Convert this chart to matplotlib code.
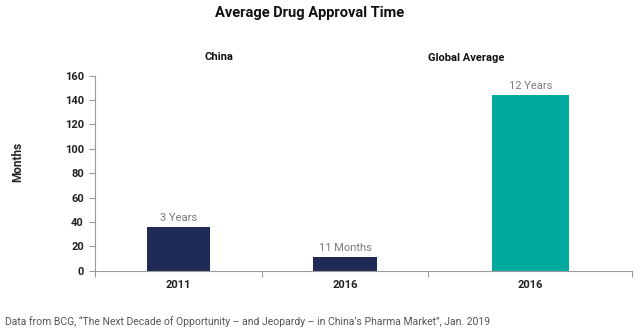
import matplotlib.pyplot as plt
import numpy as np

plt.rcParams['font.family'] = ['Roboto', 'DejaVu Sans']

# approval time per group, in months
categories = ["2011", "2016", "2016"]
months = [36, 11, 144]
value_labels = ["3 Years", "11 Months", "12 Years"]
bar_colors = ["#1e2a55", "#1e2a55", "#00a99d"]
y_ticks = [0, 20, 40, 60, 80, 100, 120, 140, 160]

title = "Average Drug Approval Time"
source = ("Data from BCG, \u201cThe Next Decade of Opportunity \u2013 and Jeopardy \u2013 "
          "in China\u2019s Pharma Market\u201d, Jan. 2019")

# the global slot is a bit wider than the two China slots
slot_widths = np.array([1.0, 1.0, 1.22])
edges = np.concatenate([[0], np.cumsum(slot_widths)])
centers = (edges[:-1] + edges[1:]) / 2

fig = plt.figure(figsize=(6.4, 3.34), dpi=100)
ax = fig.add_axes([0.1484, 0.1895, 0.839, 0.584])

ax.bar(centers, months, width=0.38 * slot_widths, color=bar_colors, zorder=2)
for x, v, lab in zip(centers, months, value_labels):
    ax.text(x, v + 3.5, lab, ha='center', va='bottom', fontsize=8, color='#7a7a7a')

ax.set_xlim(edges[0], edges[-1])
ax.set_ylim(0, 160)
ax.set_yticks(y_ticks)
ax.set_yticklabels([str(t) for t in y_ticks], fontsize=8, color='#222222', fontweight='bold')
ax.set_xticks(centers)
ax.set_xticklabels(categories, fontsize=8, color='#222222', fontweight='bold')
ax.set_xticks(edges, minor=True)
ax.tick_params(axis='x', which='major', length=0, pad=7)
ax.tick_params(axis='x', which='minor', length=4, color='#9a9a9a', width=0.8)
ax.tick_params(axis='y', length=4, color='#9a9a9a', width=0.8, pad=4)

for side in ['top', 'right']:
    ax.spines[side].set_visible(False)
for side in ['left', 'bottom']:
    ax.spines[side].set_color('#9a9a9a')
    ax.spines[side].set_linewidth(0.8)

fig.text(0.484, 0.961, title, ha='center', va='center', fontsize=10.5, fontweight='bold', color='#111111')
fig.text(0.342, 0.829, "China", ha='center', va='center', fontsize=8, fontweight='bold', color='#111111')
fig.text(0.728, 0.826, "Global Average", ha='center', va='center', fontsize=8, fontweight='bold', color='#111111')
fig.text(0.027, 0.516, "Months", ha='center', va='center', rotation=90, fontsize=8.5, fontweight='bold', color='#222222')
fig.text(0.008, 0.036, source, ha='left', va='center', fontsize=7.5, color='#555555')

fig.savefig('out.png', dpi=100)
